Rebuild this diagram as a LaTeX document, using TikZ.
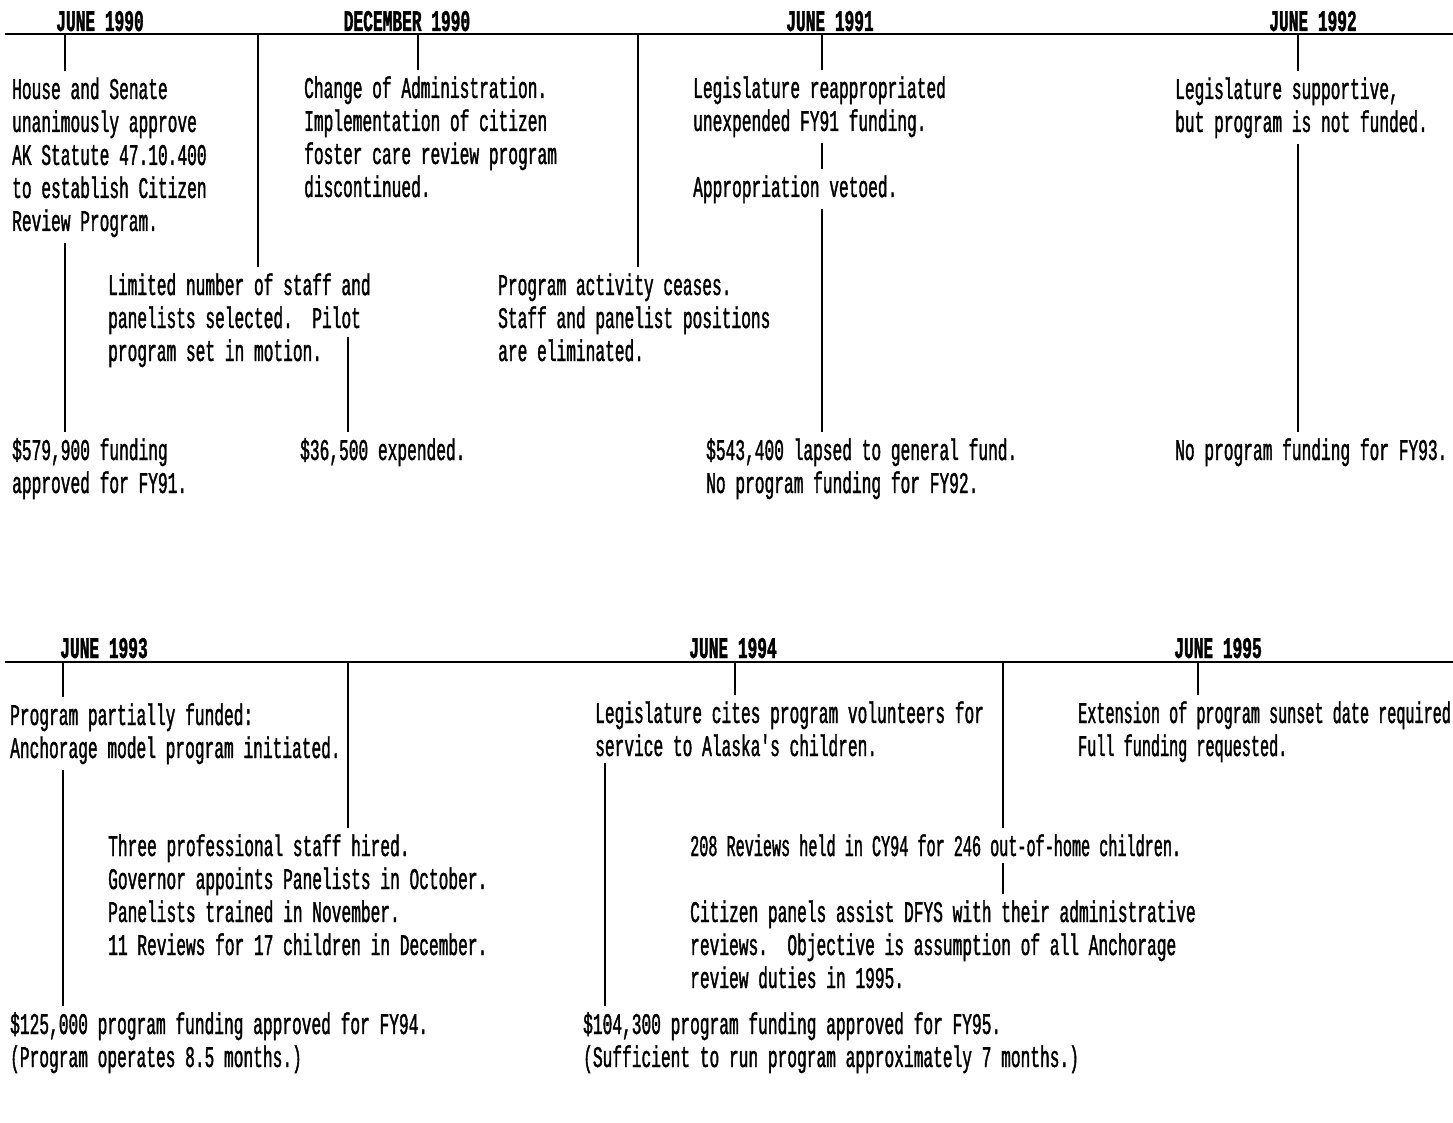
\documentclass[tikz,border=0pt]{standalone}
\usepackage{fontspec}
\newfontfamily\tw[FakeStretch=0.54,FakeBold=1.2]{Liberation Mono}
\newfontfamily\twn[FakeStretch=0.505,FakeBold=1.2]{Liberation Mono}
\begin{document}
\begin{tikzpicture}[x=1pt,y=-1pt,
  txt/.style={anchor=base west, inner xsep=0pt, inner ysep=6pt, align=left,
    font=\tw\fontsize{30}{33}\selectfont},
  txtn/.style={txt, font=\twn\fontsize{30}{33}\selectfont},
  datelbl/.style={anchor=base, inner sep=0pt, font=\tw\bfseries\fontsize{30}{33}\selectfont},
  tl/.style={line width=2.4pt},
  conn/.style={line width=2pt}]
\useasboundingbox (0,0) rectangle (1453,1123);
% ---------- top timeline ----------
\coordinate (L1a) at (5,34);
\coordinate (L1b) at (1453,34);
\draw[tl] (L1a) -- (L1b);
\node[datelbl] (d1) at (100,31) {JUNE 1990};
\node[datelbl] (d2) at (407,31) {DECEMBER 1990};
\node[datelbl] (d3) at (830,31) {JUNE 1991};
\node[datelbl] (d4) at (1313,31) {JUNE 1992};
\coordinate (t1) at (65,34);
\coordinate (t2) at (258,34);
\coordinate (t3) at (418,34);
\coordinate (t4) at (638,34);
\coordinate (t5) at (822,34);
\coordinate (t6) at (1298,34);

\node[txt] (house) at (12,231) {House and Senate\\unanimously approve\\AK Statute 47.10.400\\to establish Citizen\\Review Program.};
\node[txt] (change) at (304,197) {Change of Administration.\\Implementation of citizen\\foster care review program\\discontinued.};
\node[txt] (reapp) at (693,131) {Legislature reappropriated\\unexpended FY91 funding.};
\node[txt] (veto) at (693,197) {Appropriation vetoed.};
\node[txt] (support) at (1175,132) {Legislature supportive,\\but program is not funded.};
\node[txt] (limited) at (108,361) {Limited number of staff and\\panelists selected.\ \ Pilot\\program set in motion.};
\node[txt] (cease) at (498,361) {Program activity ceases.\\Staff and panelist positions\\are eliminated.};
\node[txt] (f579) at (12,493) {\$579,900 funding\\approved for FY91.};
\node[txt] (f365) at (300,460) {\$36,500 expended.};
\node[txt] (f543) at (706,493) {\$543,400 lapsed to general fund.\\No program funding for FY92.};
\node[txt] (f93) at (1175,460) {No program funding for FY93.};
\coordinate (pilot) at (348,337);

\draw[conn] (t1) -- (t1 |- house.north);
\draw[conn] (house.south -| t1) -- (t1 |- f579.north);
\draw[conn] (t2) -- (t2 |- limited.north);
\draw[conn] (t3) -- (t3 |- change.north);
\draw[conn] (t4) -- (t4 |- cease.north);
\draw[conn] (t5) -- (t5 |- reapp.north);
\draw[conn] (reapp.south -| t5) -- (t5 |- veto.north);
\draw[conn] (veto.south -| t5) -- (t5 |- f543.north);
\draw[conn] (t6) -- (t6 |- support.north);
\draw[conn] (support.south -| t6) -- (t6 |- f93.north);
\draw[conn] (pilot) -- (pilot |- f365.north);

% ---------- bottom timeline ----------
\coordinate (L2a) at (5,662);
\coordinate (L2b) at (1453,662);
\draw[tl] (L2a) -- (L2b);
\node[datelbl] (d5) at (104,658) {JUNE 1993};
\node[datelbl] (d6) at (733,658) {JUNE 1994};
\node[datelbl] (d7) at (1218,658) {JUNE 1995};
\coordinate (b1) at (63,662);
\coordinate (b2) at (348,662);
\coordinate (b3) at (735,662);
\coordinate (b4) at (1003,662);
\coordinate (b5) at (1198,662);
\coordinate (b6) at (605,662);

\node[txt] (partial) at (10,758) {Program partially funded:\\Anchorage model program initiated.};
\node[txt] (cites) at (595,756) {Legislature cites program volunteers for\\service to Alaska's children.};
\node[txtn] (ext) at (1078,756) {Extension of program sunset date required\\Full funding requested.};
\node[txt] (three) at (108,955) {Three professional staff hired.\\Governor appoints Panelists in October.\\Panelists trained in November.\\11 Reviews for 17 children in December.};
\node[txtn] (r208) at (690,856) {208 Reviews held in CY94 for 246 out-of-home children.};
\node[txt] (panels) at (690,988) {Citizen panels assist DFYS with their administrative\\reviews.\ \ Objective is assumption of all Anchorage\\review duties in 1995.};
\node[txt] (f125) at (10,1067) {\$125,000 program funding approved for FY94.\\(Program operates 8.5 months.)};
\node[txt] (f104) at (583,1067) {\$104,300 program funding approved for FY95.\\(Sufficient to run program approximately 7 months.)};

\draw[conn] (b1) -- (b1 |- partial.north);
\draw[conn] (partial.south -| b1) -- (b1 |- f125.north);
\draw[conn] (b2) -- (b2 |- three.north);
\draw[conn] (b3) -- (b3 |- cites.north);
\draw[conn] (cites.south -| b6) -- (b6 |- f104.north);
\draw[conn] (b4) -- (b4 |- r208.north);
\draw[conn] (r208.south -| b4) -- (b4 |- panels.north);
\draw[conn] (b5) -- (b5 |- ext.north);
\end{tikzpicture}
\end{document}
